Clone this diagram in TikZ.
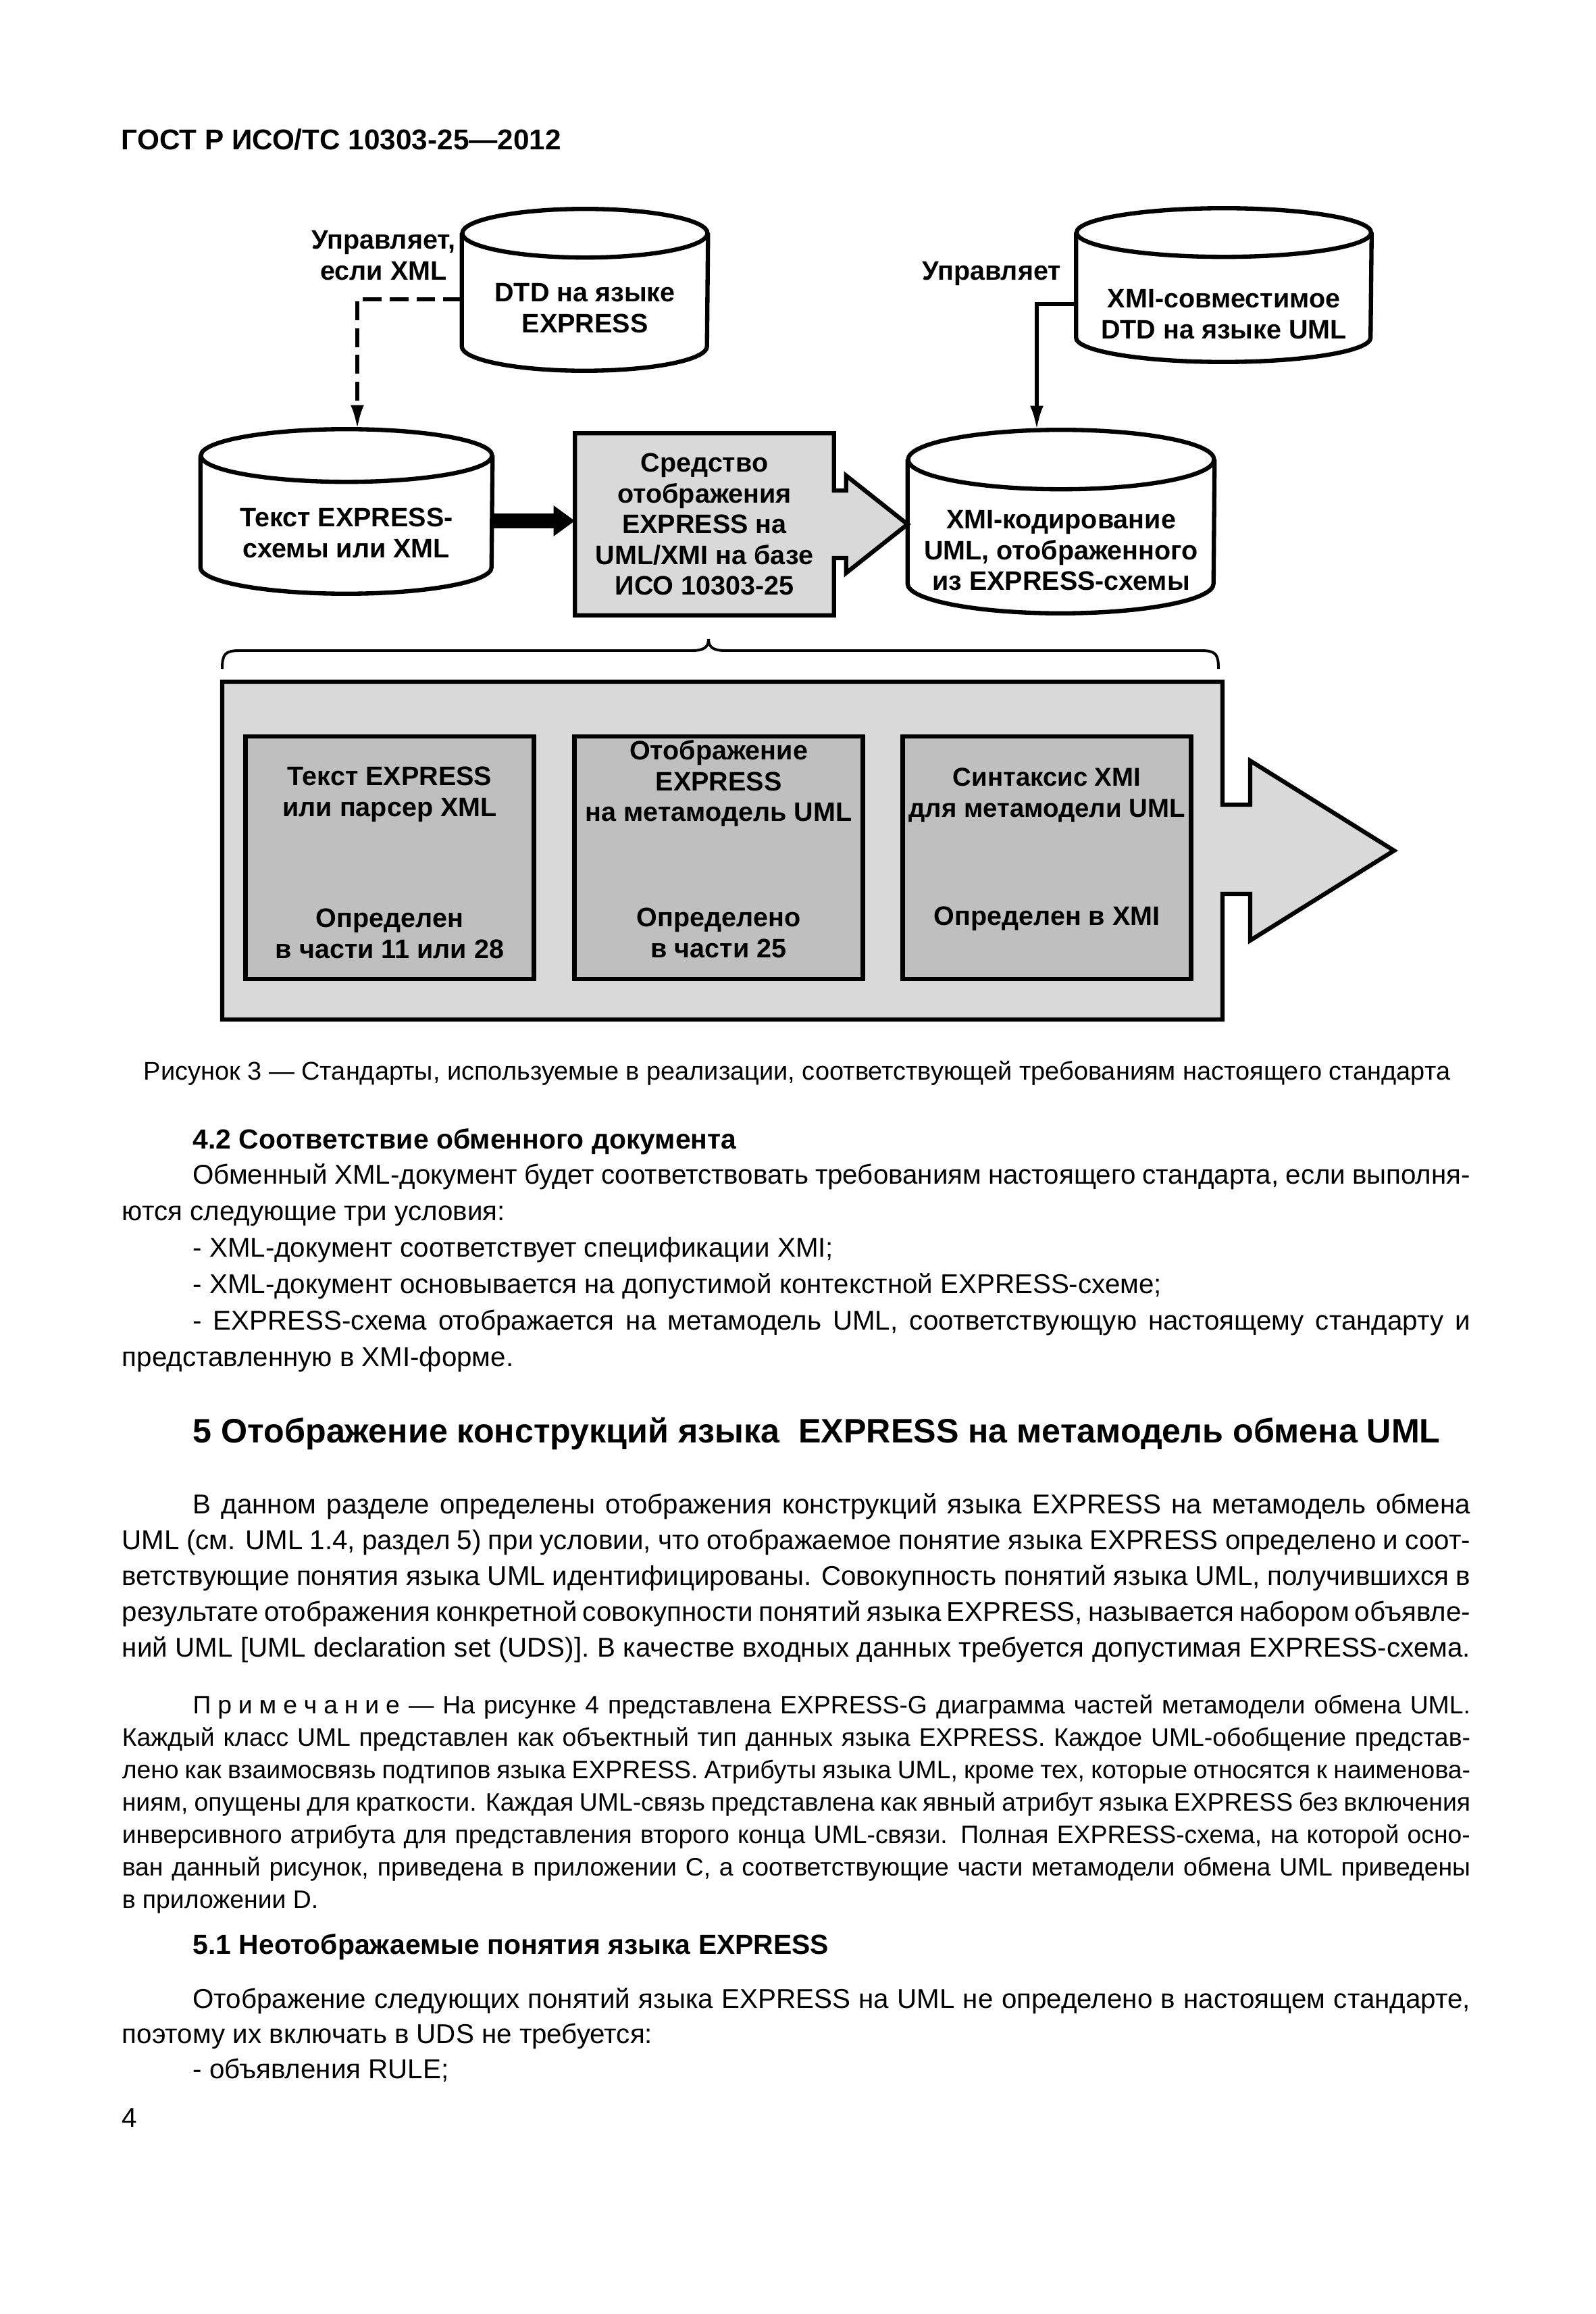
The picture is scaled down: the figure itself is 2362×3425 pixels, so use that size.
\documentclass[tikz,border=0pt]{standalone}
\usepackage{fontspec}
\setmainfont{Liberation Sans}
\usetikzlibrary{positioning}
\usetikzlibrary{calc,arrows.meta}
\usetikzlibrary{backgrounds}
\definecolor{gost-light}{HTML}{D9D9D9}
\definecolor{gost-mid}{HTML}{BFBFBF}
\newcommand{\pxu}{0.088908mm}
\newlength{\textwd}\setlength{\textwd}{505pt}
\newlength{\indwd}\setlength{\indwd}{26.5pt}
\newcommand{\jline}[1]{\hbox to \textwd{#1}}
\newcommand{\jlinei}[1]{\hbox to \textwd{\hskip\indwd #1}}
\newcommand{\rline}[1]{\hbox{#1}}
\newcommand{\rlinei}[1]{\hbox{\hskip\indwd #1}}
\newcommand{\spc}{\kern2.5pt\relax}
% cylinder outline round a named node: node, x radius, y radius (px)
\newcommand{\dbshape}[3]{%
  \draw[dbline] ($(#1.north west)+(0,#3)$) -- ($(#1.south west)+(0,-#3)$)
    arc[start angle=180, end angle=360, x radius={#2*\pxu}, y radius={#3*\pxu}]
    -- ($(#1.north east)+(0,#3)$);
  \draw[dbline] ($(#1.north)+(0,#3)$) ellipse[x radius={#2*\pxu}, y radius={#3*\pxu}];
}

\begin{document}
\begin{tikzpicture}[x=0.088908mm, y=-0.088908mm, >=Latex]

  \tikzset{
    lbl/.style={font=\bfseries\fontsize{10}{11.5}\selectfont, align=center, inner sep=0pt},
    dbnode/.style={inner sep=0pt},
    dbline/.style={line width=1.6pt},
    stdbox/.style={draw, line width=1.6pt, fill=gost-mid, minimum width={427*\pxu}, minimum height={359*\pxu}, inner sep=0pt},
    ctrl/.style={line width=1.4pt, -{Latex[length=9pt,width=5pt]}},
    feed/.style={line width=5.5pt, -{Triangle[length=8pt,width=11pt]}},
    body/.style={font=\fontsize{10.2}{13.7}\selectfont, anchor=base west, inner sep=0pt},
    notetext/.style={font=\fontsize{9.45}{12.15}\selectfont, anchor=base west, inner sep=0pt},
    headtext/.style={font=\bfseries\fontsize{10.35}{12}\selectfont, anchor=base west, inner sep=0pt}
  }

  \begin{scope}[on background layer]
    \fill[white] (0,0) rectangle (2362,3425);
  \end{scope}
  \useasboundingbox (0,0) rectangle (2362,3425);

  % Page header
  \node (hdr) [font=\bfseries\fontsize{10.7}{12}\selectfont, anchor=base west, inner sep=0pt] at (179,222) {ГОСТ Р ИСО/ТС 10303-25—2012};

  % Cylinders (stores)
  \node (dtd) [dbnode, minimum width={363*\pxu}, minimum height={238*\pxu}] at (866,429) {};
  \dbshape{dtd}{181.5}{36}
  \node (dtdtext) [lbl] at (866,456) {DTD на языке\\EXPRESS};

  \node (xmidtd) [dbnode, minimum width={436*\pxu}, minimum height={226*\pxu}] at (1812,422) {};
  \dbshape{xmidtd}{218}{36}
  \node (xmidtdtext) [lbl] at (1812,465) {XMI-совместимое\\DTD на языке UML};

  \node (txt) [dbnode, minimum width={431*\pxu}, minimum height={242*\pxu}] at (513,757) {};
  \dbshape{txt}{215.5}{39}
  \node (txttext) [lbl] at (513,789) {Текст EXPRESS-\\схемы или XML};

  \node (xmienc) [dbnode, minimum width={453*\pxu}, minimum height={270*\pxu}] at (1571,772) {};
  \dbshape{xmienc}{226.5}{44}
  \node (xmienctext) [lbl] at (1571,815) {XMI-кодирование\\UML, отображенного\\из EXPRESS-схемы};

  % Mapping tool with its output arrow
  \node (tool) [lbl, minimum width={382*\pxu}, minimum height={268*\pxu}] at (1043,776) {Средство\\отображения\\EXPRESS на\\UML/XMI на базе\\ИСО 10303-25};
  \begin{scope}[on background layer]
    \draw[dbline, fill=gost-light] (tool.north west) -- (tool.north east) -- ($(tool.east)+(0,-50)$)
      -- ++(18,0) -- ++(0,-22) -- (tool.east -| xmienc.west) -- ($(tool.east)+(18,72)$)
      -- ++(0,-22) -- ($(tool.east)+(0,50)$) -- (tool.south east) -- (tool.south west) -- cycle;
  \end{scope}

  % Control labels and connectors
  \node (ctrl1) [lbl] at (568,378) {Управляет,\\если XML};
  \node (ctrl2) [lbl] at (1468,405) {Управляет};
  \draw[ctrl, dash pattern=on 7pt off 3pt] ($(dtd.west)+(0,14)$) -| ($(txt.north)+(16,0)$);
  \draw[ctrl] ($(xmidtd.west)+(0,28)$) -| ($(xmienc.north)+(-36,0)$);
  \draw[feed] ($(txt.east)+(0,14)$) -- ($(tool.west)+(0,-5)$);

  % Brace over the standards
  \draw[line width=1pt] (329,990) .. controls (329,968) and (333,963) .. (355,963) -- (1024,963)
    .. controls (1042,963) and (1049,958) .. (1049,946) .. controls (1049,958) and (1056,963) .. (1074,963)
    -- (1778,963) .. controls (1800,963) and (1804,968) .. (1804,990);

  % Big arrow of standards
  \draw[dbline, fill=gost-light] (329,1009) -- (1810,1009) -- (1810,1191) -- (1851,1191) -- (1851,1126)
    -- (2064,1259) -- (1851,1392) -- (1851,1323) -- (1810,1323) -- (1810,1509) -- (329,1509) -- cycle;

  \node (parse) [stdbox] at (577,1269.5) {};
  \node (map) [stdbox] at (1064,1269.5) {};
  \node (syntax) [stdbox] at (1550,1269.5) {};

  \node (parsetop) [lbl] at ($(parse.north)+(0,89)$) {Текст EXPRESS\\или парсер XML};
  \node (parsebot) [lbl] at ($(parse.north)+(0,295)$) {Определен\\в части 11 или 28};
  \node (maptop) [lbl] at ($(map.north)+(0,73)$) {Отображение\\EXPRESS\\на метамодель UML};
  \node (mapbot) [lbl] at ($(map.north)+(0,294)$) {Определено\\в части 25};
  \node (syntaxtop) [lbl, font=\bfseries\fontsize{9.7}{11.5}\selectfont] at ($(syntax.north)+(0,90)$) {Синтаксис XMI\\для метамодели UML};
  \node (syntaxbot) [lbl] at ($(syntax.north)+(0,273)$) {Определен в XMI};

  % Caption
  \node (fig3) [font=\fontsize{9.6}{12}\selectfont, anchor=base, inner sep=0pt] at (1180,1598) {Рисунок 3 — Стандарты, используемые в реализации, соответствующей требованиям настоящего стандарта};

  % Section 4.2
  \node (sec42) [headtext] at (285,1700) {4.2 Соответствие обменного документа};
  \node (par42) [body] at (180,1752) {\vtop{
    \jlinei{Обменный XML-документ будет соответствовать требованиям настоящего стандарта, если выполня-}
    \rline{ются следующие три условия:}
    \rlinei{- XML-документ соответствует спецификации XMI;}
    \rlinei{- XML-документ основывается на допустимой контекстной EXPRESS-схеме;}
    \jlinei{- EXPRESS-схема отображается на метамодель UML, соответствующую настоящему стандарту и}
    \rline{представленную в XMI-форме.}}};

  % Section 5
  \node (sec5) [headtext, font=\bfseries\fontsize{12.7}{14}\selectfont] at (285,2135) {5 Отображение конструкций языка\ \ EXPRESS на метамодель обмена UML};
  \node (par5) [body, font=\fontsize{10.2}{13.45}\selectfont] at (180,2240) {\vtop{
    \jlinei{В данном разделе определены отображения конструкций языка EXPRESS на метамодель обмена}
    \jline{UML (см. UML 1.4, раздел 5) при условии, что отображаемое понятие языка EXPRESS определено и соот-}
    \jline{ветствующие понятия языка UML идентифицированы. Совокупность понятий языка UML, получившихся в}
    \jline{результате отображения конкретной совокупности понятий языка EXPRESS, называется набором объявле-}
    \jline{ний UML [UML declaration set (UDS)]. В качестве входных данных требуется допустимая EXPRESS-схема.}}};

  % Note
  \node (note5) [notetext] at (180,2536) {\vtop{
    \jlinei{П\spc р\spc и\spc м\spc е\spc ч\spc а\spc н\spc и\spc е — На рисунке 4 представлена EXPRESS-G диаграмма частей метамодели обмена UML.}
    \jline{Каждый класс UML представлен как объектный тип данных языка EXPRESS. Каждое UML-обобщение представ-}
    \jline{лено как взаимосвязь подтипов языка EXPRESS. Атрибуты языка UML, кроме тех, которые относятся к наименова-}
    \jline{ниям, опущены для краткости. Каждая UML-связь представлена как явный атрибут языка EXPRESS без включения}
    \jline{инверсивного атрибута для представления второго конца UML-связи. Полная EXPRESS-схема, на которой осно-}
    \jline{ван данный рисунок, приведена в приложении C, а соответствующие части метамодели обмена UML приведены}
    \rline{в приложении D.}}};

  % Section 5.1
  \node (sec51) [headtext] at (285,2892) {5.1 Неотображаемые понятия языка EXPRESS};
  \node (par51) [body, font=\fontsize{10.2}{13.2}\selectfont] at (180,2972) {\vtop{
    \jlinei{Отображение следующих понятий языка EXPRESS на UML не определено в настоящем стандарте,}
    \rline{поэтому их включать в UDS не требуется:}
    \rlinei{- объявления RULE;}}};

  % Page number
  \node (pageno) [body] at (180,3148) {4};

\end{tikzpicture}
\end{document}
